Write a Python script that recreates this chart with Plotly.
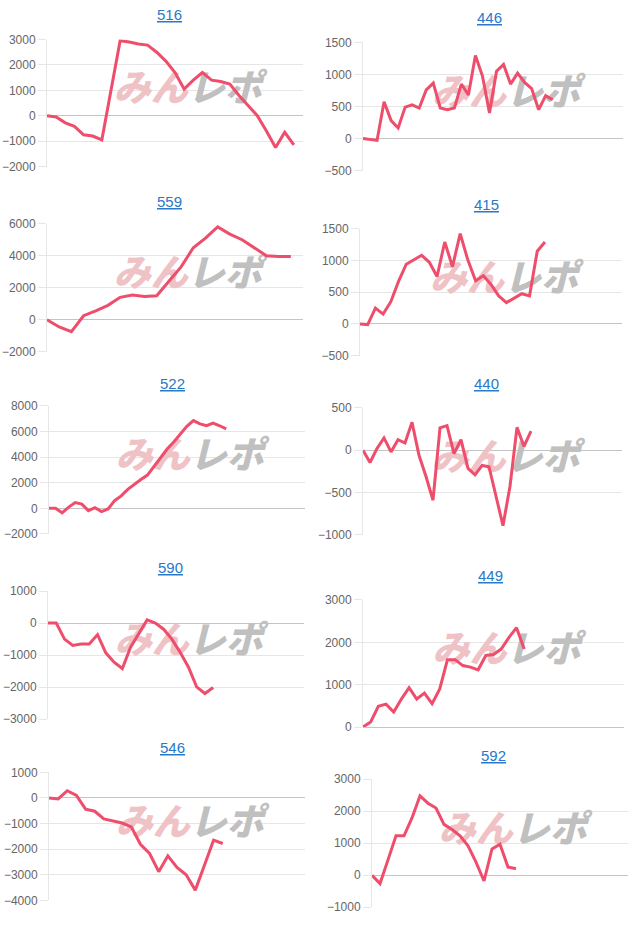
import plotly.graph_objects as go

# ---- data -------------------------------------------------------------
titles = ["516", "446", "559", "415", "522", "440", "590", "449", "546", "592"]

s516 = [0, -50, -280, -420, -750, -800, -950, 1000, 2950, 2900, 2820, 2780, 2500,
        2150, 1700, 1050, 1400, 1700, 1400, 1350, 1250, 800, 400, 0, -600, -1250,
        -650, -1150]
s446 = [0, -15, -30, 575, 280, 165, 490, 525, 475, 760, 865, 475, 450, 475, 850,
        680, 1295, 975, 400, 1050, 1155, 850, 1020, 875, 780, 450, 670, 605]
s559 = [0, -450, -750, 250, 550, 900, 1400, 1550, 1450, 1500, 2400, 3300, 4500,
        5100, 5800, 5350, 5000, 4500, 4000, 3950, 3950]
s415 = [0, -10, 250, 155, 350, 670, 940, 1005, 1080, 970, 745, 1290, 900, 1420,
        1005, 680, 760, 620, 440, 335, 400, 475, 440, 1145, 1290]
s522 = [0, 0, -350, 100, 450, 330, -180, 50, -250, -50, 600, 970, 1480, 1900, 2250,
        2600, 3270, 3990, 4630, 5190, 5790, 6400, 6850, 6600, 6450, 6650, 6450, 6200]
s440 = [0, -145, 20, 145, -20, 125, 85, 330, -60, -310, -590, 265, 290, -40, 125,
        -215, -290, -180, -195, -545, -890, -425, 270, 45, 225]
s590 = [0, 0, -500, -700, -650, -650, -360, -930, -1220, -1420, -750, -340, 100, 0,
        -190, -500, -910, -1370, -1990, -2200, -2010]
s449 = [0, 120, 490, 540, 355, 660, 930, 660, 800, 550, 900, 1590, 1590, 1450, 1415,
        1350, 1690, 1710, 1840, 2110, 2345, 1840]
s546 = [0, -40, 280, 100, -440, -520, -820, -890, -980, -1130, -1810, -2170, -2880,
        -2260, -2710, -3000, -3600, -2625, -1650, -1780]
s592 = [0, -260, 480, 1230, 1230, 1790, 2480, 2250, 2100, 1590, 1430, 1230, 920, 410,
        -180, 820, 970, 255, 205]

series = [s516, s446, s559, s415, s522, s440, s590, s449, s546, s592]
y_ranges = [(-2000, 3000), (-500, 1500), (-2000, 6000), (-500, 1500), (-2000, 8000),
            (-1000, 500), (-3000, 1000), (0, 3000), (-4000, 1000), (-1000, 3000)]
y_steps = [1000, 500, 2000, 500, 2000, 500, 1000, 1000, 1000, 1000]
x_slots = [28, 37, 21, 34, 39, 37, 31, 34, 28, 32]

# ---- layout geometry (pixels) ----------------------------------------
W, H = 640, 931
boxes = [  # x0, x1, ytop, ybottom, title_x, title_y
    (47, 303, 33, 162, 169, 8),
    (363, 623, 36, 166, 489, 11),
    (47, 303, 220, 350, 169, 197),
    (360, 622, 225, 354, 486, 201),
    (49, 305, 405, 535, 172, 382),
    (363, 622, 407, 536, 486, 382),
    (48, 304, 593, 723, 170, 569),
    (363, 624, 602, 731, 490, 577),
    (49, 305, 777, 907, 172, 752),
    (372, 628, 784, 914, 493, 760),
]

LINE = "#ee4d6b"
GRID = "#e6e6e6"
TICKFONT = dict(family="Liberation Sans, Arial, sans-serif", size=12, color="#666666")

fig = go.Figure()
layout = dict(width=W, height=H, margin=dict(l=0, r=0, t=0, b=0),
              paper_bgcolor="white", plot_bgcolor="white", showlegend=False,
              annotations=[])

for k in range(10):
    n = k + 1
    xa = "x" if n == 1 else f"x{n}"
    ya = "y" if n == 1 else f"y{n}"
    x0, x1, yt, yb, tx, ty = boxes[k]
    lo, hi = y_ranges[k]
    vals = series[k]
    xs = list(range(len(vals)))

    # watermark (drawn beneath the line)
    fig.add_trace(go.Scatter(
        x=[x_slots[k] * 0.55], y=[lo + (hi - lo) * 0.585], mode="text",
        text=["<i><span style='color:#efc2c6'>みん</span>"
              "<span style='color:#c0c0c0'>レポ</span></i>"],
        textfont=dict(family="Noto Sans CJK JP", size=37, color="#c0c0c0",
                      weight=900),
        hoverinfo="skip", xaxis=xa, yaxis=ya, cliponaxis=False))

    fig.add_trace(go.Scatter(
        x=xs, y=vals, mode="lines", line=dict(color=LINE, width=3),
        xaxis=xa, yaxis=ya, cliponaxis=False, hoverinfo="skip"))

    layout["xaxis" if n == 1 else f"xaxis{n}"] = dict(
        domain=[x0 / W, x1 / W], range=[0, x_slots[k]], anchor=ya,
        showgrid=False, zeroline=False, showticklabels=False, ticks="",
        showline=False, fixedrange=True)
    layout["yaxis" if n == 1 else f"yaxis{n}"] = dict(
        domain=[1 - yb / H, 1 - yt / H], range=[lo, hi], anchor=xa,
        tickmode="linear", tick0=lo, dtick=y_steps[k],
        showgrid=True, gridcolor=GRID, gridwidth=1,
        zeroline=True, zerolinecolor="#c4c4c4", zerolinewidth=1,
        showline=True, linecolor=GRID, linewidth=1,
        ticks="outside", ticklen=8, tickcolor=GRID, tickwidth=1,
        tickfont=TICKFONT, fixedrange=True)

    layout["annotations"].append(dict(
        text=f"<u>{titles[k]}</u>", x=tx / W, y=1 - ty / H, xref="paper",
        yref="paper", showarrow=False, xanchor="center", yanchor="middle",
        font=dict(family="Liberation Sans, Arial, sans-serif", size=15,
                  color="#2a78c8")))

fig.update_layout(**layout)
fig.write_html("out.html")
